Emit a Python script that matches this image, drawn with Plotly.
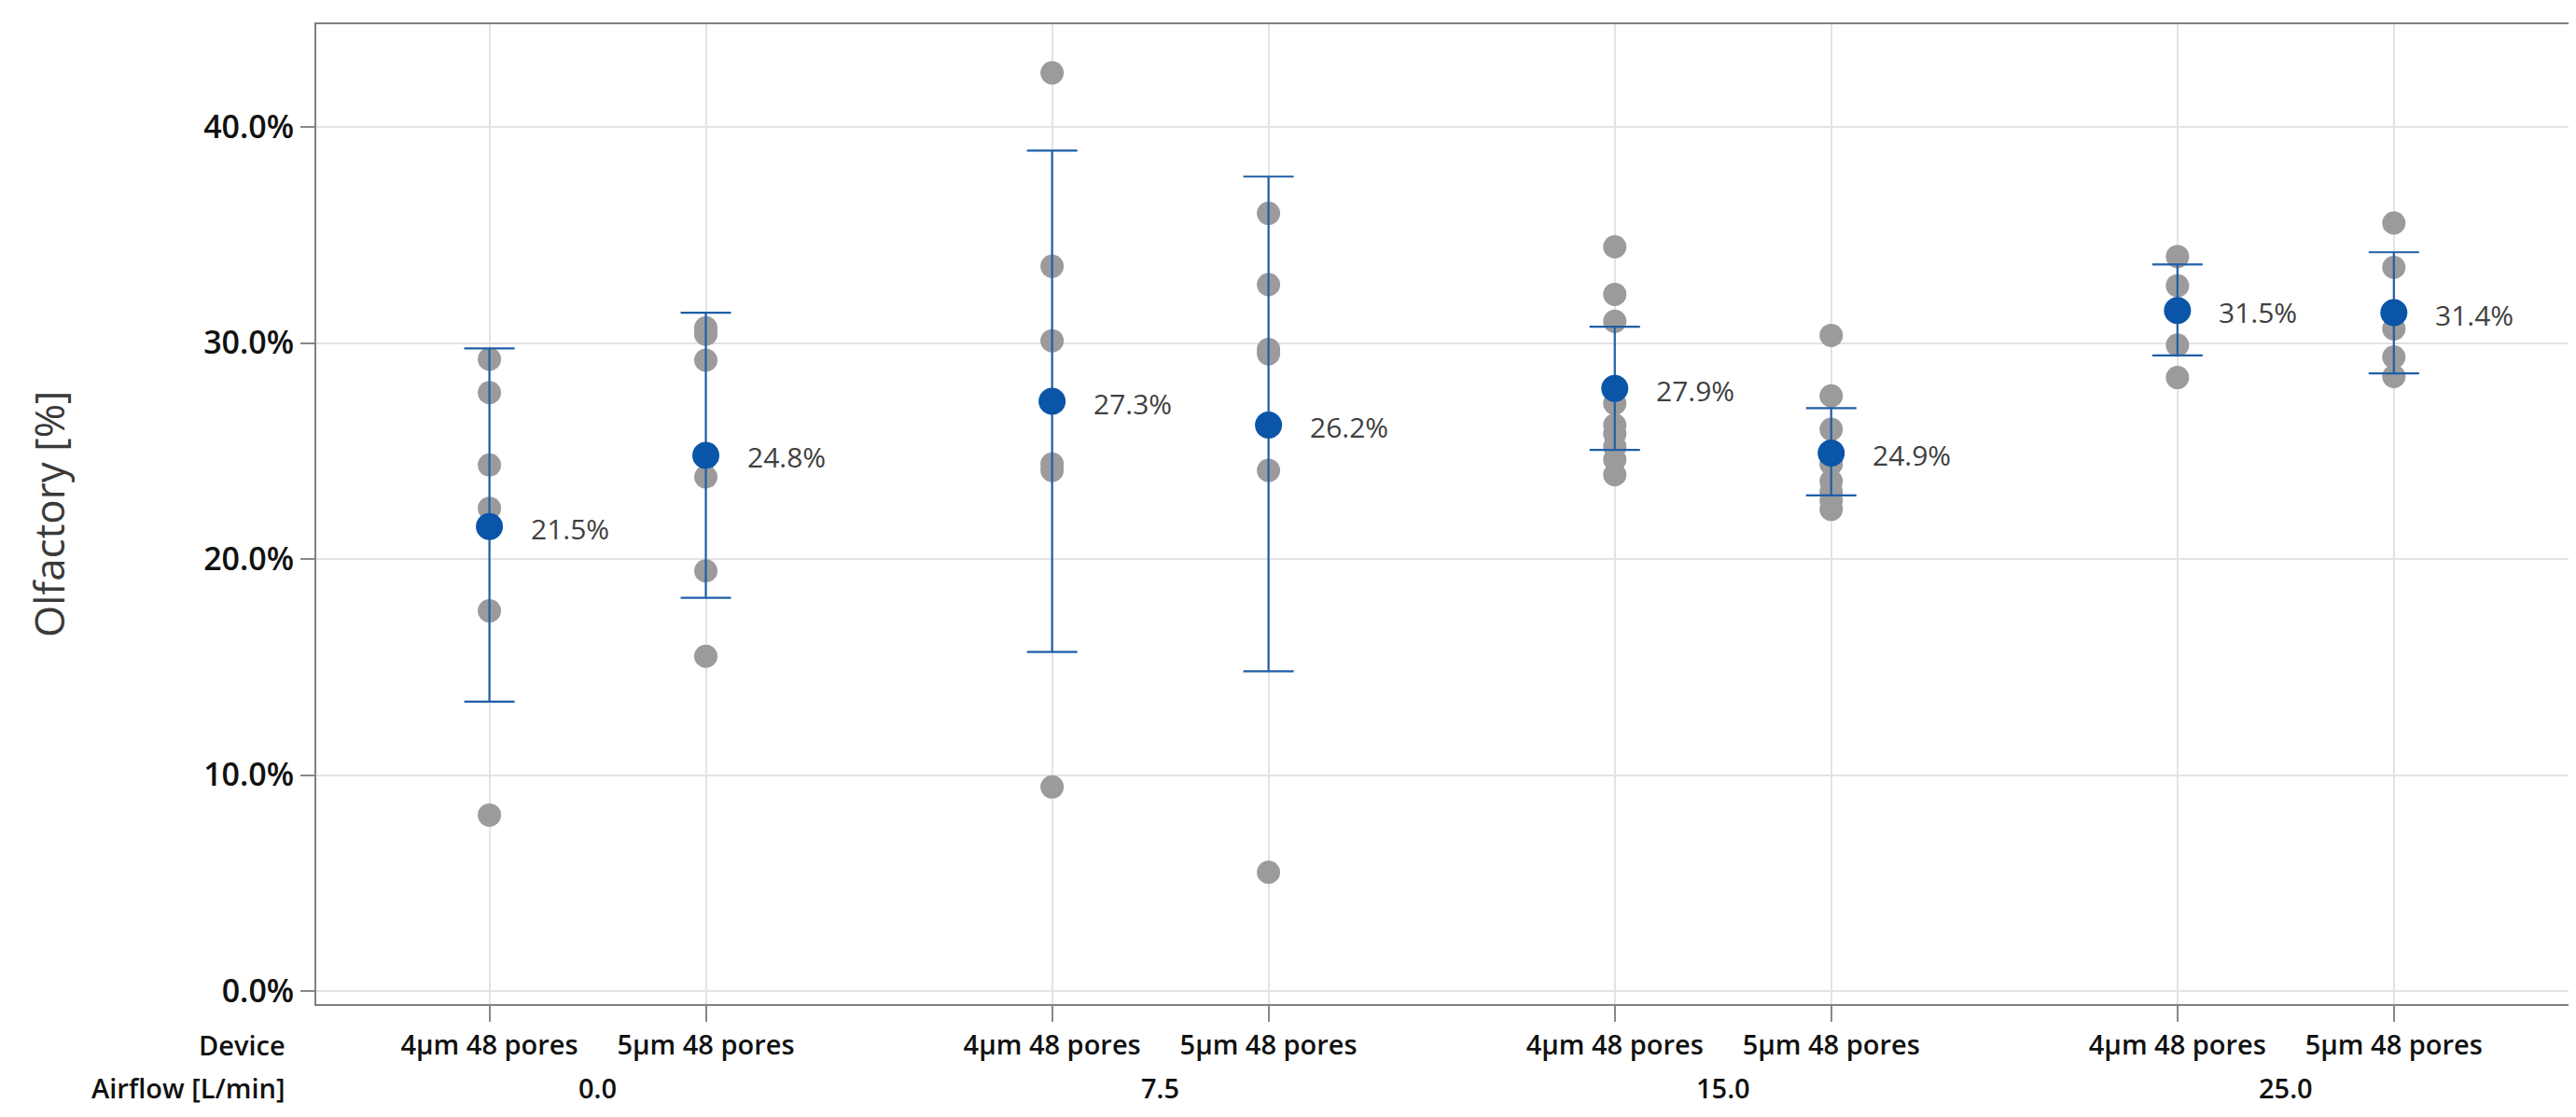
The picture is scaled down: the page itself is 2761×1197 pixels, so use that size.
import plotly.graph_objects as go

# ---------------- data ----------------
devices = ["4µm 48 pores", "5µm 48 pores"]
airflows = ["0.0", "7.5", "15.0", "25.0"]

g_0_4 = [29.25, 27.7, 24.35, 22.35, 17.6, 8.15]
g_0_5 = [30.7, 30.4, 29.2, 23.8, 19.45, 15.5]
g_75_4 = [42.5, 33.55, 30.1, 24.4, 24.1, 9.45]
g_75_5 = [36.0, 32.7, 29.7, 29.5, 24.1, 5.5]
g_15_4 = [34.45, 32.25, 31.0, 27.2, 26.2, 25.8, 25.2, 24.6, 23.9]
g_15_5 = [30.35, 27.55, 26.0, 24.4, 23.6, 23.1, 22.7, 22.3]
g_25_4 = [34.0, 32.65, 31.5, 29.9, 28.4]
g_25_5 = [35.55, 33.5, 30.65, 29.35, 28.45]
groups = [g_0_4, g_0_5, g_75_4, g_75_5, g_15_4, g_15_5, g_25_4, g_25_5]

means = [21.5, 24.8, 27.3, 26.2, 27.9, 24.9, 31.5, 31.4]
ci_upper = [29.75, 31.4, 38.9, 37.7, 30.75, 26.98, 33.63, 34.2]
ci_lower = [13.4, 18.2, 15.7, 14.8, 25.05, 22.94, 29.42, 28.59]

y_ticks = [0, 10, 20, 30, 40]

# ---------------- layout helpers ----------------
GROUP_PITCH = 2.6
pos = [gi * GROUP_PITCH + di for gi in range(len(airflows)) for di in range(len(devices))]
tick_text = [devices[di] for gi in range(len(airflows)) for di in range(len(devices))]

FONT = "Open Sans"
GRAY = "#9b9b9b"
BLUE = "#0b55a8"
BAR = "#1f5ea6"

fig = go.Figure()

# individual observations
xs, ys = [], []
for p, vals in zip(pos, groups):
    xs += [p] * len(vals)
    ys += vals
fig.add_trace(go.Scatter(
    x=xs, y=ys, mode="markers",
    marker=dict(color=GRAY, size=25, line=dict(width=0)),
    hoverinfo="skip", showlegend=False,
))

# means with CI
fig.add_trace(go.Scatter(
    x=pos, y=means, mode="markers",
    marker=dict(color=BLUE, size=29, line=dict(width=0)),
    error_y=dict(
        type="data", symmetric=False,
        array=[u - m for u, m in zip(ci_upper, means)],
        arrayminus=[m - l for m, l in zip(means, ci_lower)],
        color=BAR, thickness=2.2, width=27,
    ),
    hoverinfo="skip", showlegend=False,
))

annotations = []
for p, m in zip(pos, means):
    annotations.append(dict(
        x=p, y=m, xref="x", yref="y", text=f"{m:.1f}%",
        showarrow=False, xanchor="left", yanchor="middle", xshift=42, yshift=-2,
        font=dict(family=FONT, size=30, color="#404040"),
    ))

# airflow row
for gi, a in enumerate(airflows):
    annotations.append(dict(
        x=(pos[2 * gi] + pos[2 * gi + 1]) / 2, y=0, xref="x", yref="paper",
        text=a, showarrow=False, xanchor="center", yanchor="middle", yshift=-89,
        font=dict(family=FONT, size=29, color="#111111", weight=600),
    ))
# row headers
annotations.append(dict(
    x=0, y=0, xref="paper", yref="paper", text="Device", showarrow=False,
    xanchor="right", yanchor="middle", xshift=-31, yshift=-43,
    font=dict(family=FONT, size=29, color="#111111", weight=600),
))
annotations.append(dict(
    x=0, y=0, xref="paper", yref="paper", text="Airflow [L/min]", showarrow=False,
    xanchor="right", yanchor="middle", xshift=-31, yshift=-89,
    font=dict(family=FONT, size=29, color="#111111", weight=600),
))
# y title
annotations.append(dict(
    x=0, y=0.5, xref="paper", yref="paper", text="Olfactory [%]", showarrow=False,
    textangle=-90, xanchor="center", yanchor="middle", xshift=-287,
    font=dict(family=FONT, size=44, color="#3a3a3a"),
))

fig.update_layout(
    width=2761, height=1197,
    margin=dict(l=331, r=13, t=18, b=129),
    paper_bgcolor="white", plot_bgcolor="white",
    font=dict(family=FONT),
    annotations=annotations,
    showlegend=False,
)
fig.update_xaxes(
    range=[-0.8, 9.62],
    tickvals=pos, ticktext=tick_text,
    tickfont=dict(family=FONT, size=29, color="#111111", weight=600),
    ticks="outside", ticklen=17, tickcolor="#888888", tickwidth=1.5,
    showgrid=True, gridcolor="#e3e3e3", gridwidth=1.5,
    showline=True, linecolor="#808080", linewidth=2, mirror=True,
    zeroline=False,
)
fig.update_yaxes(
    range=[-0.6, 44.75],
    tickvals=y_ticks, ticktext=[f"{v:.1f}%" for v in y_ticks],
    tickfont=dict(family=FONT, size=34, color="#111111", weight=600),
    ticks="outside", ticklen=15, tickcolor="#888888", tickwidth=1.5,
    showgrid=True, gridcolor="#e3e3e3", gridwidth=1.5,
    showline=True, linecolor="#808080", linewidth=2, mirror=True,
    zeroline=False,
)

fig.write_html("out.html")
